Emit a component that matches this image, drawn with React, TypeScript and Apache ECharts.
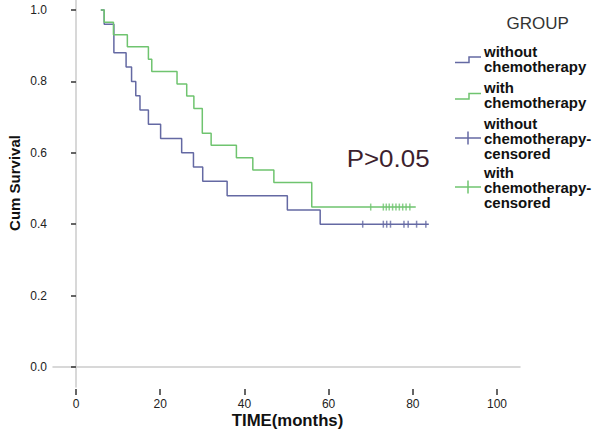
import React, { useEffect, useRef } from "react";
import * as echarts from "echarts";

// Kaplan-Meier steps (time in months, cumulative survival)
const blueTimes = [5.9, 6.7, 9.0, 11.9, 13.2, 14.2, 15.2, 17.2, 20.1, 25.1, 27.9, 30.1, 35.9, 50.2, 58.0, 83.8];
const blueSurv = [1.0, 0.96, 0.88, 0.84, 0.8, 0.76, 0.72, 0.68, 0.64, 0.6, 0.56, 0.52, 0.48, 0.44, 0.4, 0.4];
const greenTimes = [5.9, 6.7, 8.9, 12.2, 17.2, 18.0, 24.0, 26.3, 28.0, 30.0, 32.1, 38.1, 42.0, 47.0, 56.0, 80.7];
const greenSurv = [1.0, 0.966, 0.931, 0.897, 0.862, 0.828, 0.793, 0.759, 0.724, 0.655, 0.621, 0.586, 0.552, 0.517, 0.448, 0.448];
const blueCensored = [68.1, 73.0, 73.8, 74.7, 77.9, 78.9, 80.9, 83.1];
const greenCensored = [70.0, 73.0, 73.7, 74.4, 75.2, 76.0, 76.8, 77.6, 78.4, 79.3];

const xTicks = [0, 20, 40, 60, 80, 100];
const yTicks = [0, 0.2, 0.4, 0.6, 0.8, 1.0];
const legendNames = [
  "without\nchemotherapy",
  "with\nchemotherapy",
  "without\nchemotherapy-\ncensored",
  "with\nchemotherapy-\ncensored",
];

const BLUE = "#6469a3";
const GREEN = "#6fc46f";
const FONT = '"Liberation Sans", Arial, sans-serif';

function levelAt(times: number[], surv: number[], t: number) {
  let v = surv[0];
  for (let i = 0; i < times.length; i++) if (times[i] <= t) v = surv[i];
  return v;
}

export default function App() {
  const ref = useRef<HTMLDivElement>(null);
  useEffect(() => {
    document.body.style.margin = "0";
    if (!ref.current) return;
    const chart = echarts.init(ref.current, null, { renderer: "svg" });
    const xMin = -5.46;
    const xMax = 105.46;
    const yMin = -0.056;
    const yMax = 1.028;

    const legendCenters = [59.5, 96, 139, 188];
    const legendColors = [BLUE, GREEN, BLUE, GREEN];
    const graphics: any[] = [
      {
        type: "text",
        x: 14,
        y: 183,
        rotation: Math.PI / 2,
        style: { text: "Cum Survival", font: `bold 15px ${FONT}`, fill: "#111", align: "center", verticalAlign: "middle" },
      },
      {
        type: "text",
        x: 287.5,
        y: 420.5,
        scaleX: 1.046,
        style: { text: "TIME(months)", font: `bold 16px ${FONT}`, fill: "#111", align: "center", verticalAlign: "middle" },
      },
      {
        type: "text",
        x: 537.7,
        y: 23.3,
        style: { text: "GROUP", font: `17px ${FONT}`, fill: "#333", align: "center", verticalAlign: "middle" },
      },
      {
        type: "text",
        x: 346.7,
        y: 158.7,
        scaleX: 1.08,
        style: { text: "P>0.05", font: `24px ${FONT}`, fill: "#3d1f2e", align: "left", verticalAlign: "middle" },
      },
    ];
    legendNames.forEach((name, i) => {
      const c = legendCenters[i];
      const lines = name.split("\n");
      const lh = 15;
      lines.forEach((ln, j) => {
        graphics.push({
          type: "text",
          x: 484,
          y: c + (j - (lines.length - 1) / 2) * lh,
          scaleX: 1.07,
          style: { text: ln, font: `bold 14px ${FONT}`, fill: "#111", align: "left", verticalAlign: "middle" },
        });
      });
      if (i < 2) {
        graphics.push({
          type: "polyline",
          shape: { points: [[455, c + 3], [469, c + 3], [469, c - 2.5], [481, c - 2.5]] },
          style: { stroke: legendColors[i], lineWidth: 1.5, fill: "none" },
        });
      } else {
        graphics.push({
          type: "line",
          shape: { x1: 455, y1: c - 1, x2: 481, y2: c - 1 },
          style: { stroke: legendColors[i], lineWidth: 1.5 },
        });
        graphics.push({
          type: "line",
          shape: { x1: 468, y1: c - 7.5, x2: 468, y2: c + 5.5 },
          style: { stroke: legendColors[i], lineWidth: 1.5 },
        });
      }
    });

    chart.setOption({
      animation: false,
      backgroundColor: "#fff",
      grid: { left: 53, right: 80, top: 0, bottom: 48, containLabel: false },
      xAxis: [
        {
          type: "value",
          min: xMin,
          max: xMax,
          axisLine: { show: true, lineStyle: { color: "#cbcbcb", width: 1.5 } },
          axisTick: { show: false },
          axisLabel: { show: false },
          splitLine: { show: false },
        },
        {
          type: "value",
          min: xMin,
          max: xMax,
          position: "bottom",
          offset: 2,
          axisLine: { show: false },
          axisTick: { show: true, length: 6, customValues: xTicks, lineStyle: { color: "#333", width: 1.5 } },
          axisLabel: { show: true, customValues: xTicks, margin: 9, fontSize: 12, fontFamily: FONT, color: "#222" },
          splitLine: { show: false },
        },
      ],
      yAxis: {
        type: "value",
        min: yMin,
        max: yMax,
        axisLine: { show: true, lineStyle: { color: "#cbcbcb", width: 1.5 } },
        axisTick: { show: true, length: 5, customValues: yTicks, lineStyle: { color: "#333", width: 1.5 } },
        axisLabel: {
          show: true,
          customValues: yTicks,
          margin: 6,
          fontSize: 12,
          fontFamily: FONT,
          color: "#222",
          formatter: (v: number) => v.toFixed(1),
        },
        splitLine: { show: false },
      },
      graphic: graphics,
      series: [
        {
          name: "without chemotherapy",
          type: "line",
          step: "end",
          showSymbol: false,
          xAxisIndex: 0,
          data: blueTimes.map((t, i) => [t, blueSurv[i]]),
          lineStyle: { color: BLUE, width: 1.5 },
          itemStyle: { color: BLUE },
        },
        {
          name: "with chemotherapy",
          type: "line",
          step: "end",
          showSymbol: false,
          xAxisIndex: 0,
          data: greenTimes.map((t, i) => [t, greenSurv[i]]),
          lineStyle: { color: GREEN, width: 1.5 },
          itemStyle: { color: GREEN },
        },
        {
          name: "without chemotherapy-censored",
          type: "scatter",
          xAxisIndex: 0,
          symbol: "rect",
          symbolSize: [1.5, 7],
          data: blueCensored.map((t) => [t, levelAt(blueTimes, blueSurv, t)]),
          itemStyle: { color: BLUE },
        },
        {
          name: "with chemotherapy-censored",
          type: "scatter",
          xAxisIndex: 0,
          symbol: "rect",
          symbolSize: [1.5, 7],
          data: greenCensored.map((t) => [t, levelAt(greenTimes, greenSurv, t)]),
          itemStyle: { color: GREEN },
        },
      ],
    });
    return () => chart.dispose();
  }, []);
  return <div ref={ref} style={{ width: 600, height: 435 }} />;
}
